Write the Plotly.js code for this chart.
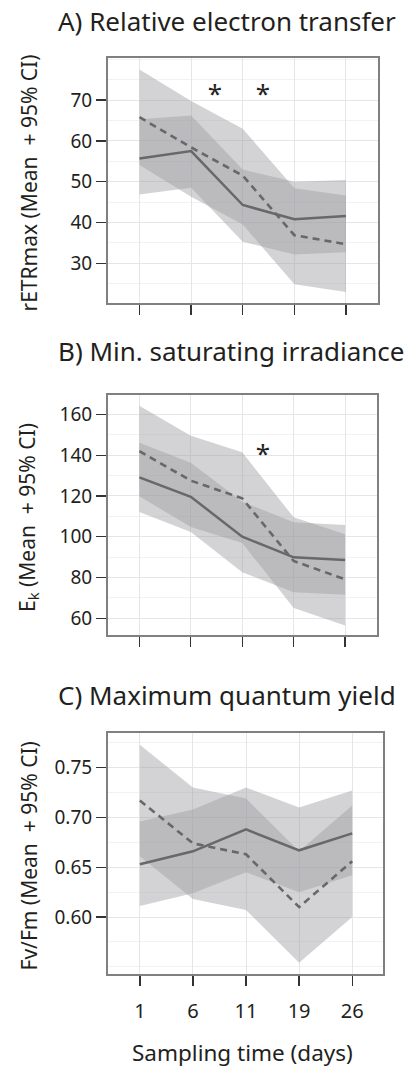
<!DOCTYPE html>
<html>
<head>
<meta charset="utf-8">
<script src="https://cdn.plot.ly/plotly-3.0.1.min.js"></script>
<style>html,body{margin:0;padding:0;background:#fff;}#chart{width:415px;height:1067px;}</style>
</head>
<body>
<div id="chart"></div>
<script>
// ---- data ----
const days = ['1', '6', '11', '19', '26'];

// Panel A: rETRmax
const aSolidMean = [55.7, 57.5, 44.3, 40.8, 41.6];
const aSolidLo   = [46.9, 48.5, 35.3, 32.2, 32.7];
const aSolidHi   = [65.3, 66.2, 53.0, 50.0, 50.4];
const aDashMean  = [65.8, 58.4, 51.5, 36.9, 34.7];
const aDashLo    = [54.1, 46.3, 39.5, 24.9, 23.0];
const aDashHi    = [77.5, 69.8, 63.0, 48.4, 46.6];
const aTicks = [30, 40, 50, 60, 70];
const aStarX = [1.46, 2.39];   // positions between sampling days (index units)
const aStarY = [70.9, 70.9];

// Panel B: Ek
const bSolidMean = [129.1, 119.6, 100.0, 89.9, 88.6];
const bSolidLo   = [112.1, 102.3, 82.6, 72.8, 71.6];
const bSolidHi   = [146.1, 136.3, 117.2, 107.1, 105.8];
const bDashMean  = [142.0, 127.5, 118.8, 88.1, 79.1];
const bDashLo    = [119.8, 104.8, 96.9, 65.1, 56.4];
const bDashHi    = [164.2, 149.5, 141.4, 109.5, 101.2];
const bTicks = [60, 80, 100, 120, 140, 160];
const bStarX = [2.4];
const bStarY = [139.5];

// Panel C: Fv/Fm
const cSolidMean = [0.653, 0.666, 0.688, 0.667, 0.684];
const cSolidLo   = [0.611, 0.624, 0.645, 0.625, 0.642];
const cSolidHi   = [0.696, 0.708, 0.730, 0.710, 0.727];
const cDashMean  = [0.717, 0.674, 0.663, 0.610, 0.656];
const cDashLo    = [0.661, 0.618, 0.607, 0.554, 0.600];
const cDashHi    = [0.773, 0.730, 0.719, 0.666, 0.712];
const cTicks = [0.60, 0.65, 0.70, 0.75];

const panelTitles = ['A) Relative electron transfer', 'B) Min. saturating irradiance', 'C) Maximum quantum yield'];
const yTitles = ['rETRmax (Mean  + 95% CI)', 'E<sub>k</sub> (Mean  + 95% CI)', 'Fv/Fm (Mean  + 95% CI)'];
const xTitle = 'Sampling time (days)';

// ---- styling ----
const W = 415, H = 1067;
const FONT = 'Noto Sans, sans-serif';
const TXT = '#231f20';
const bandFill = 'rgba(160,160,163,0.46)';
const lineCol = '#686868';
const xIdx = days.map((d, i) => i);

const panels = [
  {x0:108, x1:378, y0:58,  y1:303, range:[20.3, 80.3], ticks:aTicks, minor:5, tickfmt:'', xr:[-0.61, 4.62],
   s:[aSolidMean,aSolidLo,aSolidHi], d:[aDashMean,aDashLo,aDashHi], stars:[aStarX,aStarY], titleY:41},
  {x0:108, x1:377, y0:395, y1:635, range:[51.8, 169.5], ticks:bTicks, minor:10, tickfmt:'', xr:[-0.61, 4.62],
   s:[bSolidMean,bSolidLo,bSolidHi], d:[bDashMean,bDashLo,bDashHi], stars:[bStarX,bStarY], titleY:371},
  {x0:108, x1:383, y0:733, y1:974, range:[0.5428, 0.7848], ticks:cTicks, minor:0.025, tickfmt:'.2f', xr:[-0.6, 4.58],
   s:[cSolidMean,cSolidLo,cSolidHi], d:[cDashMean,cDashLo,cDashHi], stars:null, titleY:715}
];

const traces = [];
const layout = {
  width: W, height: H,
  margin: {l:0, r:0, t:0, b:0},
  paper_bgcolor: '#fff', plot_bgcolor: '#fff',
  showlegend: false,
  font: {family: FONT, color: TXT, size: 18},
  annotations: []
};

panels.forEach((p, i) => {
  const n = i === 0 ? '' : String(i + 1);
  const xa = 'x' + n, ya = 'y' + n;
  [p.s, p.d].forEach(ser => {
    traces.push({x: xIdx, y: ser[2], xaxis: xa, yaxis: ya, mode: 'lines', line: {width: 0}, hoverinfo: 'skip'});
    traces.push({x: xIdx, y: ser[1], xaxis: xa, yaxis: ya, mode: 'lines', line: {width: 0}, fill: 'tonexty', fillcolor: bandFill, hoverinfo: 'skip'});
  });
  traces.push({x: xIdx, y: p.s[0], xaxis: xa, yaxis: ya, mode: 'lines', line: {color: lineCol, width: 2.5}});
  traces.push({x: xIdx, y: p.d[0], xaxis: xa, yaxis: ya, mode: 'lines', line: {color: lineCol, width: 2.6, dash: '7px,5px'}});
  if (p.stars) {
    traces.push({x: p.stars[0], y: p.stars[1], xaxis: xa, yaxis: ya, mode: 'text', text: p.stars[0].map(() => '*'),
      textfont: {size: 26, color: TXT, family: FONT}, textposition: 'middle center', hoverinfo: 'skip'});
  }
  layout['xaxis' + n] = {
    domain: [p.x0 / W, p.x1 / W], anchor: ya, range: p.xr,
    tickmode: 'array', tickvals: xIdx, ticktext: days,
    showgrid: true, gridcolor: '#e6e6e6', gridwidth: 1,
    showline: true, linecolor: '#808080', linewidth: 2, mirror: true, zeroline: false,
    ticks: 'outside', ticklen: 10, tickwidth: 1.3, tickcolor: '#333',
    showticklabels: i === 2, ticklabelstandoff: 8, tickfont: {size: 20, color: TXT, family: FONT}
  };
  layout['yaxis' + n] = {
    domain: [1 - p.y1 / H, 1 - p.y0 / H], anchor: xa, range: p.range,
    tickmode: 'array', tickvals: p.ticks, tickformat: p.tickfmt,
    showgrid: true, gridcolor: '#e6e6e6', gridwidth: 1,
    minor: {dtick: p.minor, tick0: 0, showgrid: true, gridcolor: '#f2f2f2', gridwidth: 1, ticks: ''},
    showline: true, linecolor: '#808080', linewidth: 2, mirror: true, zeroline: false,
    ticks: 'outside', ticklen: 10, tickwidth: 1.3, tickcolor: '#333',
    tickfont: {size: 19, color: TXT, family: FONT}
  };
  layout.annotations.push({
    text: panelTitles[i], xref: 'paper', yref: 'paper', x: 56 / W, y: 1 - p.titleY / H,
    xanchor: 'left', yanchor: 'bottom', showarrow: false, font: {size: 26, color: TXT, family: FONT}
  });
  layout.annotations.push({
    text: yTitles[i], xref: 'paper', yref: 'paper', x: 28 / W, y: 1 - ((p.y0 + p.y1) / 2 + 3) / H,
    xanchor: 'center', yanchor: 'middle', textangle: -90, showarrow: false, font: {size: 21, color: TXT, family: FONT}
  });
});

layout.annotations.push({
  text: xTitle, xref: 'paper', yref: 'paper', x: 242 / W, y: 1 - 1052 / H,
  xanchor: 'center', yanchor: 'middle', showarrow: false, font: {size: 22.5, color: TXT, family: FONT}
});

Plotly.newPlot('chart', traces, layout, {staticPlot: true, displayModeBar: false});
</script>
</body>
</html>
